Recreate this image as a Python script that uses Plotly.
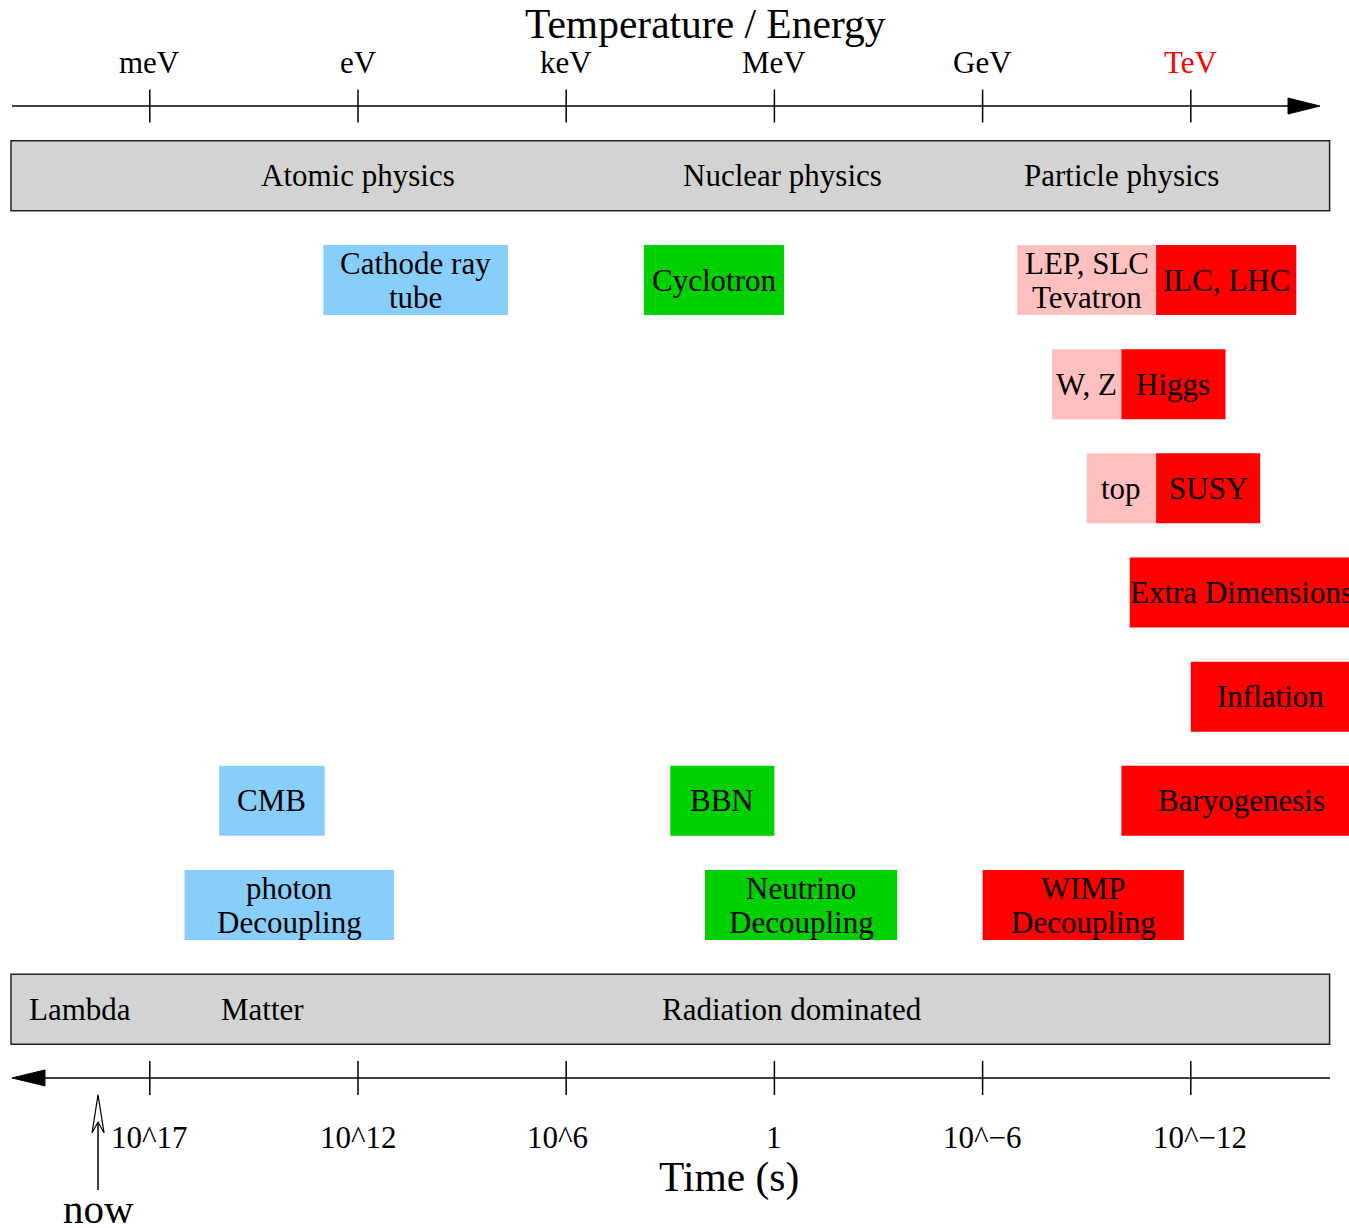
import plotly.graph_objects as go

# ---------------- data ----------------
# x axis unit: log10(E / eV)
energy_ticks = [-3, 0, 3, 6, 9, 12]
energy_labels = ["meV", "eV", "keV", "MeV", "GeV", "TeV"]
energy_label_colors = ["black", "black", "black", "black", "black", "red"]

time_labels = ["10^17", "10^12", "10^6", "1", "10^\u22126", "10^\u221212"]
time_label_shift = [0, 0, -0.13, 0, 0, 0.13]

# top band (energy regimes)
top_band_labels = ["Atomic physics", "Nuclear physics", "Particle physics"]
top_band_x = [0.0, 6.12, 11.0]
# bottom band (cosmic eras)
bottom_band_labels = ["Lambda", "Matter", "Radiation dominated"]
bottom_band_x = [-4.0, -1.37, 6.25]
band_lo, band_hi = -5.0, 14.0

# boxes: label lines, energy extent (log10 eV), row, colour
box_labels = [
    ["Cathode ray", "tube"], ["Cyclotron"], ["LEP, SLC", "Tevatron"], ["ILC, LHC"],
    ["W, Z"], ["Higgs"], ["top"], ["SUSY"], ["Extra Dimensions"], ["Inflation"],
    ["Baryogenesis"], ["CMB"], ["BBN"], ["photon", "Decoupling"],
    ["Neutrino", "Decoupling"], ["WIMP", "Decoupling"],
]
box_lo = [-0.5, 4.12, 9.5, 11.5, 10.0, 11.0, 10.5, 11.5, 11.12, 12.0, 11.0, -2.0, 4.5, -2.5, 5.0, 9.0]
box_hi = [2.16, 6.14, 11.5, 13.52, 11.0, 12.5, 11.5, 13.0, 14.35, 14.3, 14.45, -0.48, 6.0, 0.52, 7.77, 11.9]
box_row = [0, 0, 0, 0, 1, 1, 2, 2, 3, 4, 5, 5, 5, 6, 6, 6]
BLUE, GREEN, PINK, RED = "#87CEFA", "#00D000", "#FFC0C0", "#FF0000"
box_color = [BLUE, GREEN, PINK, RED, PINK, RED, PINK, RED, RED, RED, RED, BLUE, GREEN, BLUE, GREEN, RED]

# ---------------- geometry (style) ----------------
PXD = 69.4      # pixels per decade
ROW = 104.17    # pixels per row
def dx(px):     # pixel length -> x units
    return px / PXD
def dy(px):     # pixel length -> row units
    return px / ROW

FONT = "Liberation Serif, Times New Roman, Times, serif"
BOX_H = 0.336
top_band_row = -1.0
bottom_band_row = 7.0
energy_axis_row = -1.67
time_axis_row = 7.66
x_left = -4.986
x_right_energy = 13.862
x_right_time = 14.006

fig = go.Figure()
shapes = []
ann = []

def line(x0, y0, x1, y1, w=1.5, c="black"):
    shapes.append(dict(type="line", xref="x", yref="y", x0=x0, y0=y0, x1=x1, y1=y1,
                       line=dict(color=c, width=w)))

def text(x, y, s, size=31, color="black", xanchor="center"):
    ann.append(dict(x=x, y=y, xref="x", yref="y", text=s, showarrow=False,
                    xanchor=xanchor, yanchor="middle",
                    font=dict(family=FONT, size=size, color=color)))

# bands
for r in (top_band_row, bottom_band_row):
    shapes.append(dict(type="rect", xref="x", yref="y", x0=band_lo, x1=band_hi,
                       y0=r - BOX_H, y1=r + BOX_H, fillcolor="#D3D3D3",
                       line=dict(color="#222222", width=1.5), layer="below"))
for s, x in zip(top_band_labels, top_band_x):
    text(x, top_band_row, s)
for s, x in zip(bottom_band_labels, bottom_band_x):
    text(x, bottom_band_row, s)

# boxes
for lines_, lo, hi, r, c in zip(box_labels, box_lo, box_hi, box_row, box_color):
    shapes.append(dict(type="rect", xref="x", yref="y", x0=lo, x1=hi,
                       y0=r - BOX_H, y1=r + BOX_H, fillcolor=c, line=dict(width=0),
                       layer="below"))
    n = len(lines_)
    for i, s in enumerate(lines_):
        text((lo + hi) / 2, r + (i - (n - 1) / 2) * dy(34), s)

# energy axis
line(x_left, energy_axis_row, x_right_energy - dx(30), energy_axis_row)
fig.add_trace(go.Scatter(
    x=[x_right_energy, x_right_energy - dx(32), x_right_energy - dx(32), x_right_energy],
    y=[energy_axis_row, energy_axis_row - dy(8), energy_axis_row + dy(8), energy_axis_row],
    mode="lines", fill="toself", fillcolor="black", line=dict(color="black", width=1),
    hoverinfo="skip", showlegend=False))
for t, s, c in zip(energy_ticks, energy_labels, energy_label_colors):
    line(t, energy_axis_row - dy(16.5), t, energy_axis_row + dy(16.5))
    text(t, energy_axis_row - dy(44), s, color=c)
text(5.0, energy_axis_row - dy(82), "Temperature / Energy", size=41.5)

# time axis
line(x_left + dx(30), time_axis_row, x_right_time, time_axis_row)
fig.add_trace(go.Scatter(
    x=[x_left, x_left + dx(33), x_left + dx(33), x_left],
    y=[time_axis_row, time_axis_row - dy(8), time_axis_row + dy(8), time_axis_row],
    mode="lines", fill="toself", fillcolor="black", line=dict(color="black", width=1),
    hoverinfo="skip", showlegend=False))
for t, s, sh in zip(energy_ticks, time_labels, time_label_shift):
    line(t, time_axis_row - dy(17), t, time_axis_row + dy(17))
    text(t + sh, time_axis_row + dy(60), s)
text(5.35, time_axis_row + dy(100), "Time (s)", size=41.5)

# "now" marker
now_x = -3.746
line(now_x, time_axis_row + dy(112), now_x, time_axis_row + dy(44), w=1.5)
fig.add_trace(go.Scatter(
    x=[now_x, now_x - dx(6), now_x, now_x + dx(6), now_x],
    y=[time_axis_row + dy(17), time_axis_row + dy(55), time_axis_row + dy(44),
       time_axis_row + dy(55), time_axis_row + dy(17)],
    mode="lines", fill="toself", fillcolor="white", line=dict(color="black", width=1.2),
    hoverinfo="skip", showlegend=False))
text(now_x, time_axis_row + dy(131), "now", size=41)

fig.update_layout(
    width=1349, height=1228, margin=dict(l=0, r=0, t=0, b=0),
    paper_bgcolor="white", plot_bgcolor="white",
    xaxis=dict(range=[-358 / PXD, (1349 - 358) / PXD], visible=False, fixedrange=True),
    yaxis=dict(range=[(1228 - 280) / ROW, -280 / ROW], visible=False, fixedrange=True),
    shapes=shapes, annotations=ann, showlegend=False,
)
fig.write_html("out.html", config={"displayModeBar": False},
               post_script="document.body.style.margin='0';document.body.style.overflow='hidden';")
